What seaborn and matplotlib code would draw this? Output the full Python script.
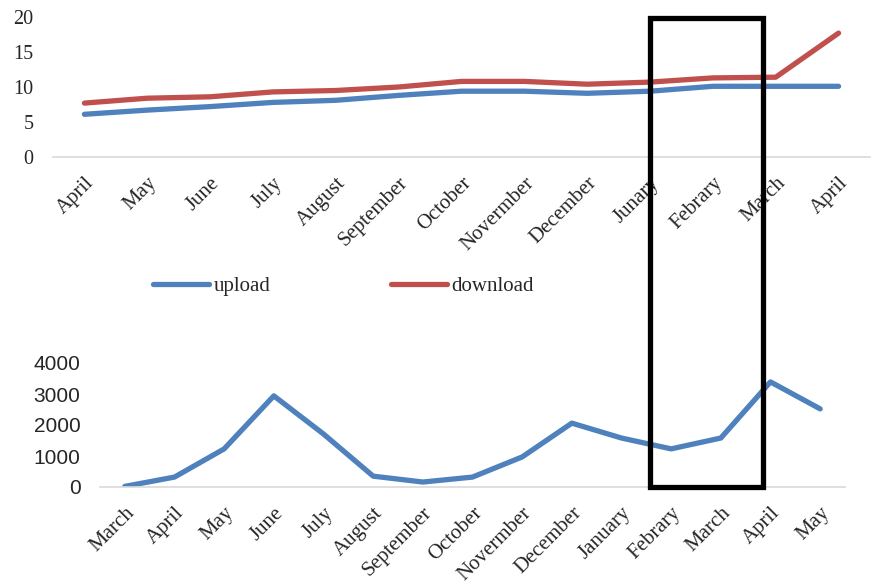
import numpy as np
import pandas as pd
import matplotlib
matplotlib.use("Agg")
import matplotlib.pyplot as plt
import seaborn as sns
from matplotlib.patches import Rectangle

top_months = ["April", "May", "June", "July", "August", "September", "October",
              "Novermber", "December", "Junary", "Febrary", "March", "April"]
upload = [6.1, 6.7, 7.2, 7.8, 8.1, 8.8, 9.4, 9.4, 9.1, 9.4, 10.1, 10.1, 10.1]
download = [7.7, 8.4, 8.6, 9.3, 9.5, 10.0, 10.8, 10.8, 10.4, 10.7, 11.3, 11.4, 17.7]
top_yticks = [0, 5, 10, 15, 20]

bottom_months = ["March", "April", "May", "June", "July", "August", "September",
                 "October", "Novermber", "December", "January", "Febrary", "March",
                 "April", "May"]
bottom_values = [20, 320, 1230, 2940, 1710, 350, 160, 320, 970, 2060, 1580, 1230,
                 1580, 3390, 2520]
bottom_yticks = [0, 1000, 2000, 3000, 4000]

BLUE = "#4F81BD"
RED = "#C0504D"
GRID = "#D9D9D9"
SERIF = "Liberation Serif"
SANS = "Liberation Sans"

sns.set_theme(style="white")
plt.rcParams["font.family"] = [SERIF, "DejaVu Sans"]

W, H = 878, 585
fig = plt.figure(figsize=(W / 100, H / 100), dpi=100)

def px_axes(x0, x1, y_top, y_bot):
    return fig.add_axes([x0 / W, 1 - y_bot / H, (x1 - x0) / W, (y_bot - y_top) / H])

# Top chart
ax1 = px_axes(53, 870, 17, 157)
df_top = pd.DataFrame({
    "pos": list(range(len(top_months))) * 2,
    "value": upload + download,
    "series": ["upload"] * len(upload) + ["download"] * len(download),
})
sns.lineplot(data=df_top, x="pos", y="value", hue="series",
             palette={"upload": BLUE, "download": RED}, linewidth=3.8,
             ax=ax1, legend=False, sort=False, solid_capstyle="round")
ax1.set_xlim(-0.5, len(top_months) - 0.5)
ax1.set_ylim(0, 20)
ax1.set_yticks(top_yticks)
ax1.set_yticklabels([str(t) for t in top_yticks], fontsize=14.5, family=SERIF)
ax1.set_xticks(range(len(top_months)))
ax1.set_xticklabels(top_months, rotation=45, ha="right", va="top",
                    rotation_mode="anchor", fontsize=15, family=SERIF)

# Bottom chart
ax2 = px_axes(100, 845, 363, 487)
df_bot = pd.DataFrame({"pos": range(len(bottom_months)), "value": bottom_values})
sns.lineplot(data=df_bot, x="pos", y="value", color=BLUE, linewidth=3.8,
             ax=ax2, sort=False, solid_capstyle="round")
ax2.set_xlim(-0.5, len(bottom_months) - 0.5)
ax2.set_ylim(0, 4000)
ax2.set_yticks(bottom_yticks)
ax2.set_yticklabels([str(t) for t in bottom_yticks], fontsize=15, family=SANS)
ax2.set_xticks(range(len(bottom_months)))
ax2.set_xticklabels(bottom_months, rotation=45, ha="right", va="top",
                    rotation_mode="anchor", fontsize=15, family=SERIF)

for ax in (ax1, ax2):
    ax.set_xlabel("")
    ax.set_ylabel("")
    ax.grid(False)
    for s in ("top", "right", "left"):
        ax.spines[s].set_visible(False)
    ax.spines["bottom"].set_color(GRID)
    ax.spines["bottom"].set_linewidth(1.2)
    ax.tick_params(axis="both", length=0)
    ax.tick_params(axis="x", pad=12)
    ax.tick_params(axis="y", pad=14)
    ax.set_facecolor("none")

# Legend
handles = ax1.get_lines()[:2]
leg = fig.legend(handles, ["upload", "download"], loc="center left",
                 bbox_to_anchor=(153 / W, 1 - 286 / H), ncol=2, frameon=False,
                 prop={"family": SERIF, "size": 15}, handlelength=2.7,
                 handletextpad=0.2, columnspacing=5.8, borderpad=0,
                 borderaxespad=0)

# Highlight rectangle
x0, x1, yt, yb = 650.5, 763.5, 18, 486.5
rect = Rectangle((x0 / W, 1 - yb / H), (x1 - x0) / W, (yb - yt) / H,
                 transform=fig.transFigure, fill=False, edgecolor="black",
                 linewidth=3.8, zorder=10)
fig.add_artist(rect)

fig.savefig("out.png", dpi=100)
